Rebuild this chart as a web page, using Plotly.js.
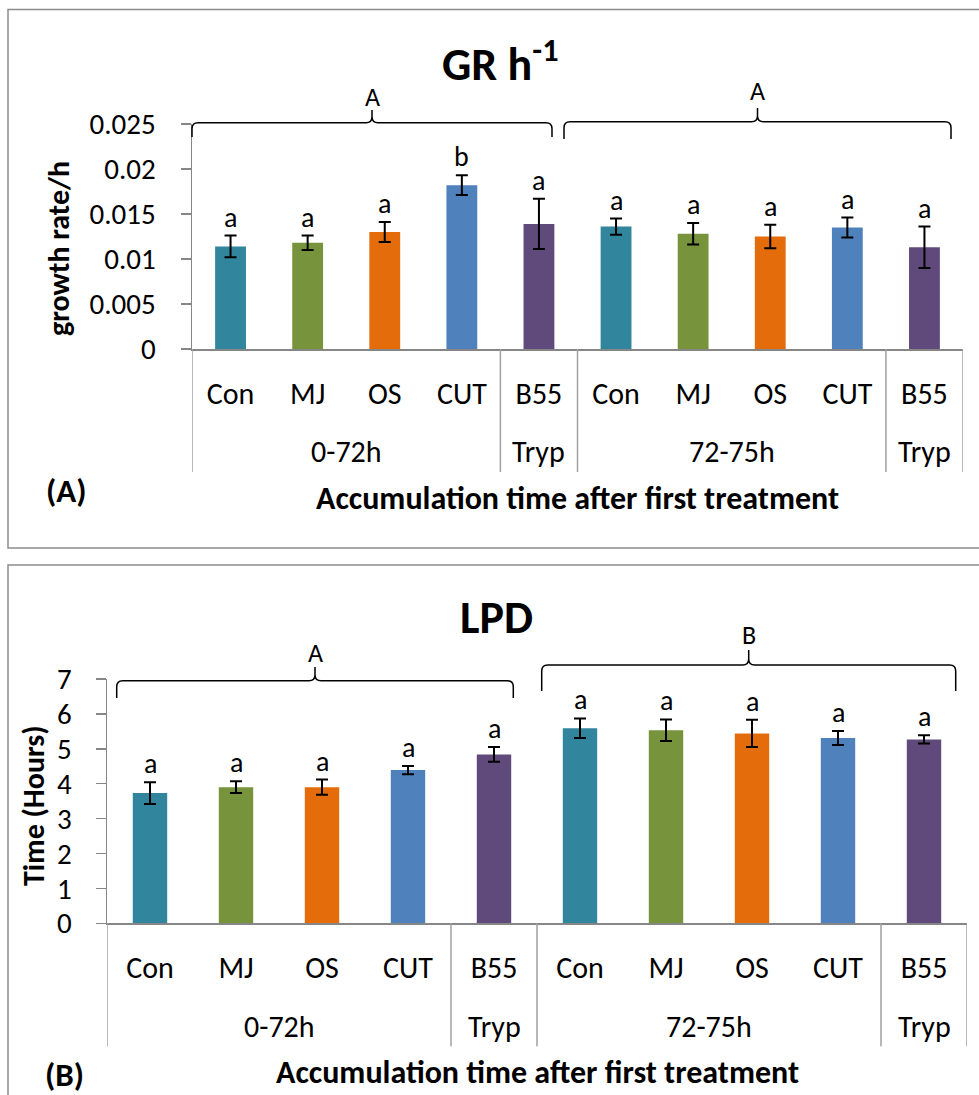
<!DOCTYPE html>
<html>
<head>
<meta charset="utf-8">
<script src="https://cdn.plot.ly/plotly-3.0.1.min.js"></script>
<style>
  html, body { margin: 0; padding: 0; background: #fff; }
  #chart { width: 979px; height: 1095px; }
</style>
</head>
<body>
<div id="chart"></div>
<script>
// ---------------- data ----------------
const categories = ['Con', 'MJ', 'OS', 'CUT', 'B55', 'Con', 'MJ', 'OS', 'CUT', 'B55'];
const groupLabels = ['0-72h', 'Tryp', '72-75h', 'Tryp'];
const groupSizes = [4, 1, 4, 1];
const barColors = ['#31859C', '#77933C', '#E46C0A', '#4F81BD', '#604A7B',
                   '#31859C', '#77933C', '#E46C0A', '#4F81BD', '#604A7B'];

const grValues  = [0.0114, 0.0118, 0.0130, 0.0182, 0.0139, 0.0136, 0.0128, 0.0125, 0.0135, 0.0113];
const grErrors  = [0.0012, 0.0008, 0.0011, 0.0011, 0.0028, 0.0009, 0.0012, 0.0013, 0.0011, 0.0023];
const grLetters = ['a', 'a', 'a', 'b', 'a', 'a', 'a', 'a', 'a', 'a'];
const grBraceLetters = ['A', 'A'];

const lpdValues  = [3.73, 3.90, 3.90, 4.39, 4.84, 5.59, 5.53, 5.44, 5.31, 5.27];
const lpdErrors  = [0.31, 0.17, 0.22, 0.12, 0.21, 0.28, 0.31, 0.39, 0.20, 0.12];
const lpdLetters = ['a', 'a', 'a', 'a', 'a', 'a', 'a', 'a', 'a', 'a'];
const lpdBraceLetters = ['A', 'B'];

// ---------------- helpers ----------------
const W = 979, H = 1095;
const FONT = 'Carlito, Lato, sans-serif';
const px = x => x / W;
const py = y => 1 - y / H;
const idx = categories.map((_, i) => i);

// group boundaries / centres in category units
const bounds = [-0.5];
groupSizes.forEach(s => bounds.push(bounds[bounds.length - 1] + s));
const groupCenters = groupSizes.map((s, i) => (bounds[i] + bounds[i + 1]) / 2);

function bracePath(xL, xR, yl, ye, yp) {
  const xc = (xL + xR) / 2, r = 6;
  const P = (x, y) => px(x).toFixed(5) + ',' + py(y).toFixed(5);
  return 'M' + P(xL, ye) + ' L' + P(xL, yl + r) + ' Q' + P(xL, yl) + ' ' + P(xL + r, yl) +
         ' L' + P(xc - r, yl) + ' Q' + P(xc, yl) + ' ' + P(xc, yl - r) + ' L' + P(xc, yp) +
         ' M' + P(xc, yp) + ' L' + P(xc, yl - r) + ' Q' + P(xc, yl) + ' ' + P(xc + r, yl) +
         ' L' + P(xR - r, yl) + ' Q' + P(xR, yl) + ' ' + P(xR, yl + r) + ' L' + P(xR, ye);
}

// panel geometry (pixels)
const P1 = { left: 192, right: 963, top: 124, bottom: 349 };
const P2 = { left: 107, right: 967, top: 679, bottom: 923.3 };

const axisGray = '#868686';

function xAxis(P, anchor) {
  return {
    domain: [px(P.left), px(P.right)], anchor: anchor,
    type: 'linear', range: [-0.5, 9.5], tickvals: idx, ticktext: categories,
    showline: true, linecolor: axisGray, linewidth: 1.5, ticks: '',
    showgrid: false, zeroline: false, fixedrange: true,
    tickfont: { family: FONT, size: 30, color: '#000' }, ticklabelstandoff: 17
  };
}
function yAxis(P, anchor, range, dtick, standoff) {
  return {
    domain: [py(P.bottom), py(P.top)], anchor: anchor,
    range: range, dtick: dtick, tick0: 0,
    showline: true, linecolor: axisGray, linewidth: 1.5,
    ticks: 'outside', ticklen: 10, tickwidth: 1.5, tickcolor: axisGray,
    showgrid: false, zeroline: false, fixedrange: true,
    tickfont: { family: FONT, size: 29, color: '#000' }, ticklabelstandoff: standoff
  };
}

const traces = [
  {
    type: 'bar', x: idx, y: grValues, width: 0.4, xaxis: 'x', yaxis: 'y',
    marker: { color: barColors },
    error_y: { type: 'data', array: grErrors, visible: true, color: '#000', thickness: 2, width: 6 },
    hoverinfo: 'y'
  },
  {
    type: 'bar', x: idx, y: lpdValues, width: 0.4, xaxis: 'x2', yaxis: 'y2',
    marker: { color: barColors },
    error_y: { type: 'data', array: lpdErrors, visible: true, color: '#000', thickness: 2, width: 6 },
    hoverinfo: 'y'
  }
];

const annotations = [];
const shapes = [];

function txt(x, y, text, size, opts) {
  return Object.assign({
    xref: 'paper', yref: 'paper', x: px(x), y: py(y), text: text, showarrow: false,
    xanchor: 'center', yanchor: 'middle', font: { family: FONT, size: size, color: '#000' }
  }, opts || {});
}

// titles
annotations.push(txt(500, 61, '<b>GR h<sup>-1</sup></b>', 46));
annotations.push(txt(497, 617, '<b>LPD</b>', 46));
// y axis titles
annotations.push(txt(58, 249, '<b>growth rate/h</b>', 30, { textangle: -90 }));
annotations.push(txt(33, 806, '<b>Time (Hours)</b>', 30, { textangle: -90 }));
// x axis titles
annotations.push(txt((P1.left + P1.right) / 2, 498, '<b>Accumulation time after first treatment</b>', 32));
annotations.push(txt((P2.left + P2.right) / 2, 1072, '<b>Accumulation time after first treatment</b>', 32));
// panel letters
annotations.push(txt(66, 491, '<b>(A)</b>', 33));
annotations.push(txt(64, 1075, '<b>(B)</b>', 33));

// significance letters above bars
idx.forEach(i => {
  annotations.push({ xref: 'x', yref: 'y', x: i, y: grValues[i] + grErrors[i], text: grLetters[i],
    showarrow: false, yanchor: 'bottom', yshift: -1, font: { family: FONT, size: 28, color: '#000' } });
  annotations.push({ xref: 'x2', yref: 'y2', x: i, y: lpdValues[i] + lpdErrors[i], text: lpdLetters[i],
    showarrow: false, yanchor: 'bottom', yshift: -1, font: { family: FONT, size: 28, color: '#000' } });
});

// group (outer category) labels and dividers
[['x', 'y', P1], ['x2', 'y2', P2]].forEach(([xr, yr, P]) => {
  groupLabels.forEach((g, i) => {
    annotations.push({ xref: xr, yref: 'paper', x: groupCenters[i], y: py(P.bottom + 103), text: g,
      showarrow: false, yanchor: 'middle', font: { family: FONT, size: 30, color: '#000' } });
  });
  bounds.forEach(b => {
    shapes.push({ type: 'line', xref: xr, yref: 'paper', x0: b, x1: b,
      y0: py(P.bottom), y1: py(P.bottom + 123), line: { color: '#a0a0a0', width: 1.5 } });
  });
});

// braces
const braces1 = [[192, 552, 122.7, 137, 110, 97], [564, 951, 121.7, 139, 108, 91]];
const braces2 = [[116.7, 513.3, 680.7, 698, 667, 653], [541.7, 955.7, 665, 691, 650, 635]];
braces1.forEach((b, i) => {
  shapes.push({ type: 'path', xref: 'paper', yref: 'paper', path: bracePath(b[0], b[1], b[2], b[3], b[4]),
    line: { color: '#000', width: 1.5 } });
  annotations.push(txt((b[0] + b[1]) / 2, b[5], grBraceLetters[i], 26));
});
braces2.forEach((b, i) => {
  shapes.push({ type: 'path', xref: 'paper', yref: 'paper', path: bracePath(b[0], b[1], b[2], b[3], b[4]),
    line: { color: '#000', width: 1.5 } });
  annotations.push(txt((b[0] + b[1]) / 2, b[5], lpdBraceLetters[i], 26));
});

// panel frames
shapes.push({ type: 'rect', xref: 'paper', yref: 'paper', x0: px(8), x1: px(990), y0: py(9.5), y1: py(548),
  line: { color: '#8c8c8c', width: 1.5 }, fillcolor: 'rgba(0,0,0,0)' });
shapes.push({ type: 'rect', xref: 'paper', yref: 'paper', x0: px(8), x1: px(990), y0: py(565), y1: py(1110),
  line: { color: '#8c8c8c', width: 1.5 }, fillcolor: 'rgba(0,0,0,0)' });

const layout = {
  width: W, height: H,
  margin: { l: 0, r: 0, t: 0, b: 0, pad: 0 },
  paper_bgcolor: '#fff', plot_bgcolor: 'rgba(0,0,0,0)',
  showlegend: false, bargap: 0.6,
  font: { family: FONT, color: '#000' },
  xaxis: xAxis(P1, 'y'),
  yaxis: yAxis(P1, 'x', [0, 0.025], 0.005, 19),
  xaxis2: xAxis(P2, 'y2'),
  yaxis2: yAxis(P2, 'x2', [0, 7], 1, 18),
  annotations: annotations,
  shapes: shapes
};

Plotly.newPlot('chart', traces, layout, { displayModeBar: false, staticPlot: true });
</script>
</body>
</html>
